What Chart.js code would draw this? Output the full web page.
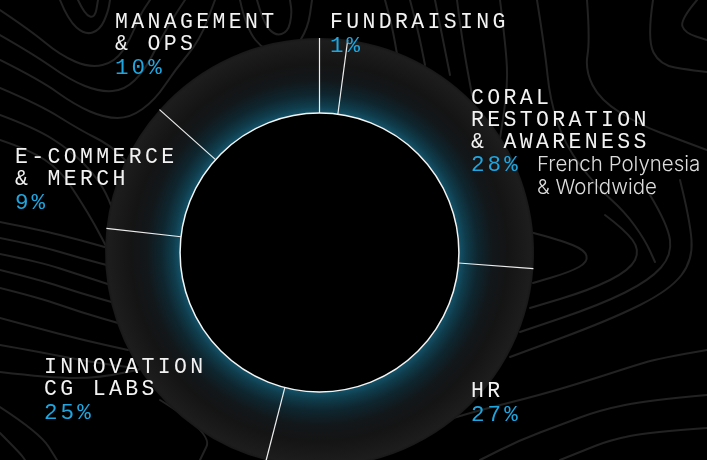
<!DOCTYPE html>
<html>
<head>
<meta charset="utf-8">
<script src="https://cdn.jsdelivr.net/npm/chart.js@4.4.1/dist/chart.umd.min.js"></script>
<style>
  html, body { margin: 0; padding: 0; background: #000; overflow: hidden; }
  #wrap { position: absolute; left: 0; top: 0; width: 707px; height: 520px; }
</style>
</head>
<body>
<div id="wrap"><canvas id="chart"></canvas></div>
<script>
// budget split, clockwise from 12 o'clock
const categories = [
    ['FUNDRAISING'],
    ['CORAL', 'RESTORATION', '& AWARENESS'],
    ['HR'],
    ['INNOVATION', 'CG LABS'],
    ['E-COMMERCE', '& MERCH'],
    ['MANAGEMENT', '& OPS']
];
// printed percentages
const shares = [1, 28, 27, 25, 9, 10];
// slice sizes as they are drawn in the picture (%)
const arcShares = [2.1, 24.1, 27.8, 22.8, 9.8, 13.4];
// extra note next to a percentage
const notes = [null, ['French Polynesia', '& Worldwide'], null, null, null, null];

// where each label block starts (left x, first baseline y)
const labelPos = [[330, 28], [471, 103.5], [471, 397], [44, 373], [15, 163], [115, 28]];

// faint topographic lines in the background (decoration only)
const contours = [
    [[0, 10], [30, 30], [60, 55], [90, 68], [115, 62], [130, 40], [140, 15], [150, 0]],
    [[0, 35], [35, 55], [70, 80], [100, 92], [125, 90], [145, 70], [160, 40], [175, 15], [185, 0]],
    [[0, 60], [40, 80], [75, 105], [105, 118], [130, 118], [155, 100], [175, 70], [200, 40], [215, 0]],
    [[0, 88], [40, 105], [80, 130], [110, 145], [130, 165]],
    [[0, 115], [35, 128], [70, 150], [95, 175], [110, 200], [118, 230]],
    [[0, 140], [30, 150], [60, 170], [80, 200], [95, 225], [108, 250]],
    [[60, 0], [68, 20], [85, 35], [100, 30], [108, 12], [110, 0]],
    [[78, 0], [85, 15], [95, 18], [98, 0]],
    [[240, 0], [246, 28], [265, 52], [293, 52], [308, 28], [312, 0]],
    [[257, 0], [263, 22], [275, 36], [288, 32], [292, 14], [290, 0]],
    [[385, 0], [392, 25], [398, 60]],
    [[410, 0], [418, 30], [425, 65]],
    [[435, 0], [441, 30], [450, 75]],
    [[457, 0], [462, 40], [472, 95]],
    [[500, 0], [505, 40], [508, 80], [503, 120], [498, 150]],
    [[537, 0], [545, 50], [550, 100], [565, 145], [595, 185], [625, 212], [645, 240], [655, 262]],
    [[587, 0], [590, 40], [585, 70], [600, 100], [640, 125], [680, 140], [707, 150]],
    [[697, 0], [680, 20], [685, 33], [707, 40]],
    [[653, 0], [647, 40], [660, 65], [690, 70], [707, 72]],
    [[530, 232], [560, 240], [585, 250], [588, 262], [570, 272], [533, 283]],
    [[605, 215], [625, 230], [640, 250], [630, 270], [590, 290], [530, 308]],
    [[650, 195], [668, 225], [672, 255], [650, 280], [600, 305], [520, 332]],
    [[680, 180], [690, 220], [693, 260], [670, 290], [610, 320], [510, 357]],
    [[707, 350], [660, 358], [630, 367], [590, 380], [540, 395], [480, 410], [430, 425]],
    [[707, 395], [650, 400], [600, 410], [560, 425], [520, 440], [480, 460]],
    [[707, 428], [650, 432], [610, 440], [580, 452], [560, 460]],
    [[0, 222], [40, 230], [80, 240], [115, 250]],
    [[0, 238], [40, 246], [80, 258], [118, 268]],
    [[0, 254], [40, 262], [80, 275], [120, 288]],
    [[0, 270], [40, 280], [80, 293], [122, 305]],
    [[0, 288], [40, 298], [80, 312], [125, 325]],
    [[0, 318], [33, 327], [83, 340], [128, 350]],
    [[0, 345], [40, 352], [90, 362], [135, 368]],
    [[0, 372], [50, 378], [100, 378], [150, 367], [170, 360]],
    [[0, 407], [40, 433], [57, 460]],
    [[0, 433], [20, 453], [25, 460]],
    [[160, 400], [213, 433], [200, 460]]
];

const CUTOUT = 0.65;

function ringFill(c) {
    const chart = c.chart;
    const a = chart.chartArea;
    if (!a) return '#181818';
    const cx = (a.left + a.right) / 2;
    const cy = (a.top + a.bottom) / 2;
    const R = Math.min(a.width, a.height) / 2;
    const g = chart.ctx.createRadialGradient(cx, cy, R * CUTOUT, cx, cy, R);
    g.addColorStop(0, 'rgb(19,82,104)');
    g.addColorStop(0.1, 'rgb(15,60,75)');
    g.addColorStop(0.25, 'rgb(14,38,47)');
    g.addColorStop(0.45, 'rgb(18,23,26)');
    g.addColorStop(0.65, '#141414');
    g.addColorStop(0.96, '#1d1d1d');
    g.addColorStop(1, '#181818');
    return g;
}

// background + topo lines
const backdrop = {
    id: 'backdrop',
    beforeDraw(chart) {
        const ctx = chart.ctx;
        ctx.save();
        ctx.fillStyle = '#000';
        ctx.fillRect(0, 0, chart.width, chart.height);
        ctx.strokeStyle = '#222';
        ctx.lineWidth = 2;
        ctx.lineJoin = 'round';
        ctx.lineCap = 'round';
        contours.forEach(pts => {
            ctx.beginPath();
            ctx.moveTo(pts[0][0], pts[0][1]);
            for (let i = 1; i < pts.length - 1; i++) {
                const mx = (pts[i][0] + pts[i + 1][0]) / 2;
                const my = (pts[i][1] + pts[i + 1][1]) / 2;
                ctx.quadraticCurveTo(pts[i][0], pts[i][1], mx, my);
            }
            const last = pts[pts.length - 1];
            ctx.lineTo(last[0], last[1]);
            ctx.stroke();
        });
        ctx.restore();
    }
};

// white radial dividers + inner circle
const dividers = {
    id: 'dividers',
    afterDatasetsDraw(chart) {
        const ctx = chart.ctx;
        const arcs = chart.getDatasetMeta(0).data;
        if (!arcs.length) return;
        ctx.save();
        ctx.strokeStyle = 'rgba(255,255,255,0.92)';
        ctx.lineWidth = 1.2;
        arcs.forEach(arc => {
            const p = arc.getProps(['x', 'y', 'startAngle', 'innerRadius', 'outerRadius'], true);
            ctx.beginPath();
            ctx.moveTo(p.x + Math.cos(p.startAngle) * p.innerRadius, p.y + Math.sin(p.startAngle) * p.innerRadius);
            ctx.lineTo(p.x + Math.cos(p.startAngle) * p.outerRadius, p.y + Math.sin(p.startAngle) * p.outerRadius);
            ctx.stroke();
        });
        const p0 = arcs[0].getProps(['x', 'y', 'innerRadius'], true);
        ctx.lineWidth = 1.5;
        ctx.strokeStyle = '#f4f4f4';
        ctx.beginPath();
        ctx.arc(p0.x, p0.y, p0.innerRadius, 0, Math.PI * 2);
        ctx.stroke();
        ctx.restore();
    }
};

// category names, percentages and note
const labels = {
    id: 'labels',
    afterDraw(chart) {
        const ctx = chart.ctx;
        ctx.save();
        ctx.textAlign = 'left';
        ctx.textBaseline = 'alphabetic';
        categories.forEach((lines, i) => {
            let x = labelPos[i][0];
            let y = labelPos[i][1];
            ctx.font = '21.5px "Liberation Mono", "DejaVu Sans Mono", monospace';
            ctx.letterSpacing = '3.35px';
            ctx.fillStyle = '#f2f2f2';
            lines.forEach((t, k) => ctx.fillText(t, x, y + k * 22));
            const py = y + (lines.length - 1) * 22 + 23.5;
            ctx.font = '22.5px "Liberation Mono", "DejaVu Sans Mono", monospace';
            ctx.letterSpacing = '3.1px';
            ctx.fillStyle = '#1fa6e0';
            ctx.fillText(shares[i] + '%', x, py);
            if (notes[i]) {
                ctx.font = '300 20.5px Inter, "Noto Sans", sans-serif';
                ctx.letterSpacing = '0px';
                ctx.fillStyle = '#dcdcdc';
                notes[i].forEach((t, k) => ctx.fillText(t, 537, py + k * 22.5));
            }
        });
        ctx.restore();
    }
};

new Chart(document.getElementById('chart'), {
    type: 'doughnut',
    data: {
        labels: categories.map(l => l.join(' ')),
        datasets: [{
            data: arcShares,
            backgroundColor: ringFill,
            borderWidth: 0,
            clip: false
        }]
    },
    options: {
        responsive: true,
        maintainAspectRatio: false,
        animation: false,
        events: [],
        cutout: (CUTOUT * 100) + '%',
        rotation: 0,
        layout: { padding: { top: 38, bottom: 53, left: 105, right: 173 } },
        plugins: {
            legend: { display: false },
            tooltip: { enabled: false }
        }
    },
    plugins: [backdrop, dividers, labels]
});
</script>
</body>
</html>
